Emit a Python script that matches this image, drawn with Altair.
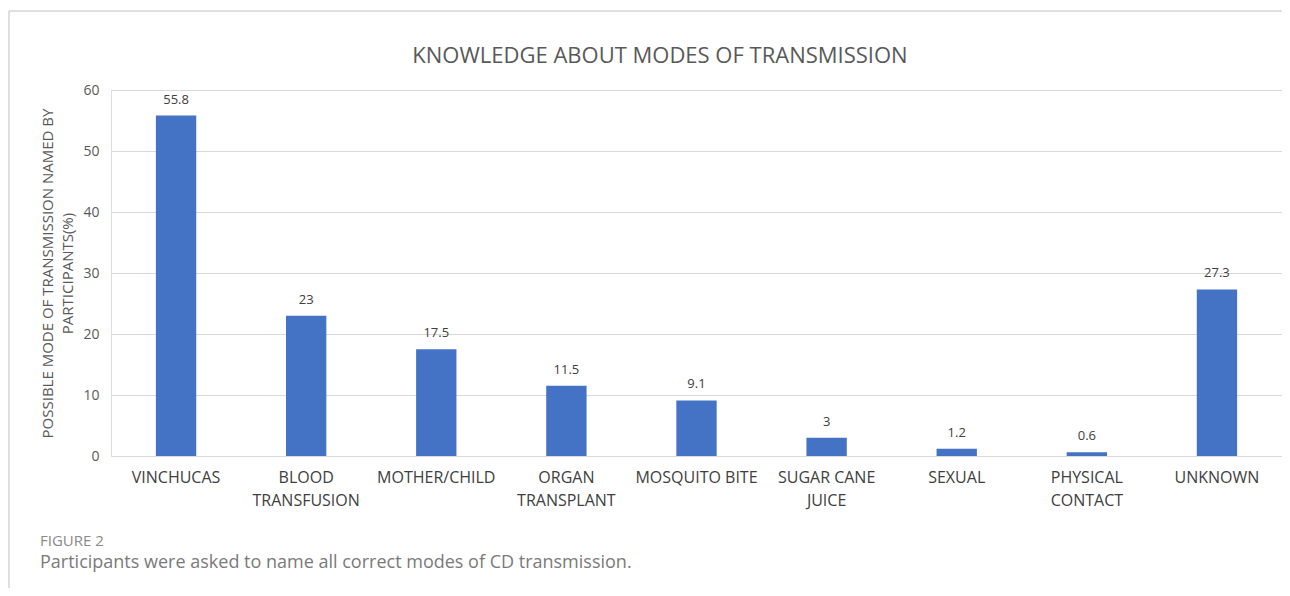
import altair as alt
import pandas as pd

categories = ["VINCHUCAS", "BLOOD\nTRANSFUSION", "MOTHER/CHILD", "ORGAN\nTRANSPLANT",
              "MOSQUITO BITE", "SUGAR CANE\nJUICE", "SEXUAL", "PHYSICAL\nCONTACT", "UNKNOWN"]
values = [55.8, 23, 17.5, 11.5, 9.1, 3, 1.2, 0.6, 27.3]
labels = ["55.8", "23", "17.5", "11.5", "9.1", "3", "1.2", "0.6", "27.3"]
y_ticks = [0, 10, 20, 30, 40, 50, 60]

title_text = "KNOWLEDGE ABOUT MODES OF TRANSMISSION"
y_title = ["POSSIBLE MODE OF TRANSMISSION NAMED BY", "PARTICIPANTS(%)"]
fig_label = "FIGURE 2"
caption = "Participants were asked to name all correct modes of CD transmission."

df = pd.DataFrame({"cat": categories, "val": values, "lab": labels})

FONT = "Open Sans"
W, H = 1171, 366

x_enc = alt.X("cat:N", sort=categories,
              scale=alt.Scale(paddingInner=0.69, paddingOuter=0.345),
              axis=alt.Axis(title=None, labelAngle=0, ticks=False, domain=False,
                            labelFont=FONT, labelFontSize=16, labelColor="#404040",
                            labelPadding=13, labelLineHeight=23,
                            labelExpr="split(datum.label, '\\n')"))
y_enc = alt.Y("val:Q", scale=alt.Scale(domain=[0, 60]),
              axis=alt.Axis(values=y_ticks, ticks=False, domain=False,
                            gridColor="#d9d9d9", gridWidth=1.2,
                            labelFont=FONT, labelFontSize=14, labelColor="#595959",
                            labelPadding=12,
                            title=y_title, titleFont=FONT, titleFontSize=15,
                            titleFontWeight="normal", titleColor="#595959",
                            titleLineHeight=20, titleX=-64, titleY=183,
                            titleAngle=270, titleBaseline="middle", titleAlign="center"))

bars = alt.Chart(df).mark_bar(color="#4472C4").encode(x=x_enc, y=y_enc)
texts = alt.Chart(df).mark_text(font=FONT, fontSize=13, color="#404040",
                                baseline="middle", dy=-16).encode(
    x=alt.X("cat:N", sort=categories), y="val:Q", text="lab:N")

one = pd.DataFrame({"t": [title_text]})
title = alt.Chart(one).mark_text(font=FONT, fontSize=22, color="#595959",
                                 baseline="middle", align="center").encode(
    x=alt.value(549), y=alt.value(-34), text="t:N")

cap1 = alt.Chart(pd.DataFrame({"t": [fig_label]})).mark_text(
    font=FONT, fontSize=15, color="#8a8a8a", fontWeight=500, align="left", baseline="middle").encode(
    x=alt.value(-71), y=alt.value(451), text="t:N")
cap2 = alt.Chart(pd.DataFrame({"t": [caption]})).mark_text(
    font=FONT, fontSize=18, color="#7a7a7a", align="left", baseline="middle").encode(
    x=alt.value(-71), y=alt.value(473), text="t:N")

frame_top = alt.Chart(one).mark_rule(color="#d4d4d4", strokeWidth=1.5).encode(
    x=alt.value(-102), x2=alt.value(1171), y=alt.value(-79))
frame_left = alt.Chart(one).mark_rule(color="#d4d4d4", strokeWidth=1.5).encode(
    x=alt.value(-102), y=alt.value(-79), y2=alt.value(498))

chart = alt.layer(bars, texts, title, cap1, cap2, frame_top, frame_left).properties(
    width=W, height=H,
    autosize=alt.AutoSizeParams(type="none"),
    padding={"left": 103, "top": 82, "right": 0, "bottom": 132},
).configure_view(stroke=None).configure(background="white")

chart.save("out.html", embed_options={"renderer": "svg", "actions": False})
